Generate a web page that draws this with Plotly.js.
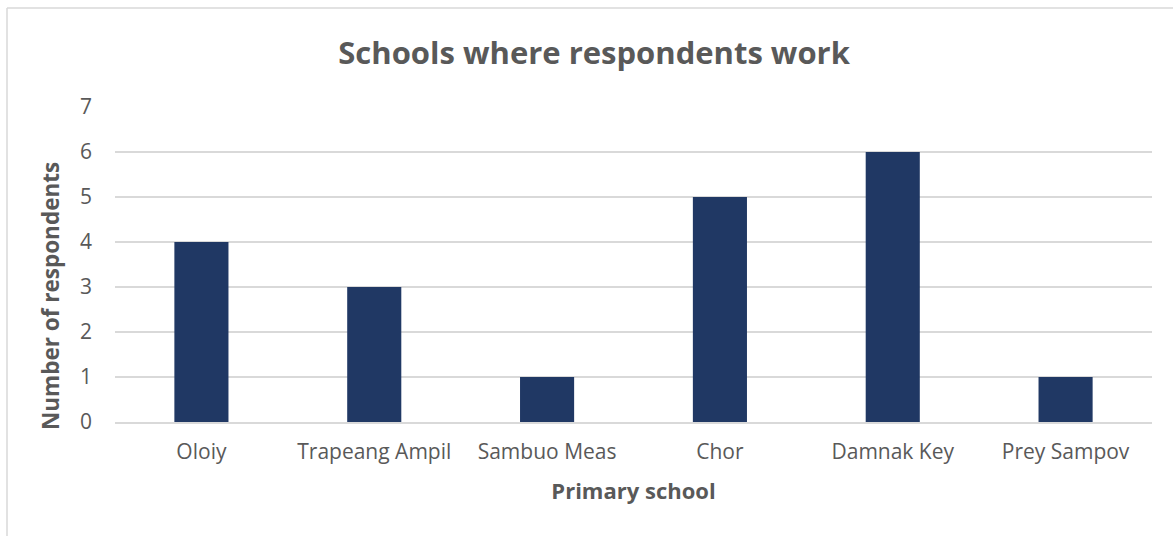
<!DOCTYPE html>
<html>
<head>
<meta charset="utf-8">
<script src="https://cdn.plot.ly/plotly-3.0.1.min.js"></script>
<style>html,body{margin:0;padding:0;background:#fff;}#chart{width:1173px;height:536px;}</style>
</head>
<body>
<div id="chart"></div>
<script>
const schools = ["Oloiy", "Trapeang Ampil", "Sambuo Meas", "Chor", "Damnak Key", "Prey Sampov"];
const respondents = [4, 3, 1, 5, 6, 1];
const yTicks = [0, 1, 2, 3, 4, 5, 6, 7];
const yTitle = "Number of respondents";

const font = "'Open Sans', sans-serif";
const W = 1173, H = 536, L = 115, R = 21, T = 107, B = 114;
const pw = W - L - R, ph = H - T - B;
const bx = (7 - L) / pw, by = (H - B - 8) / ph;

Plotly.newPlot("chart", [{
  type: "bar",
  x: schools,
  y: respondents,
  marker: {color: "#203864"},
  hoverinfo: "x+y"
}], {
  width: W, height: H,
  margin: {l: L, r: R, t: T, b: B, pad: 0},
  paper_bgcolor: "#fff", plot_bgcolor: "#fff",
  bargap: 0.687,
  showlegend: false,
  title: {text: "Schools where respondents work", x: 0.462, xref: "paper", xanchor: "center", y: 0.922, yref: "container",
          font: {family: font, size: 31, color: "#595959", weight: "bold"}},
  xaxis: {
    type: "category",
    showgrid: false, showline: true, linecolor: "#d9d9d9", linewidth: 1.5,
    ticks: "", ticklabelstandoff: 10,
    tickfont: {family: font, size: 21, color: "#595959"},
    title: {text: "Primary school", font: {family: font, size: 22, color: "#595959", weight: "bold"}, standoff: 20},
    fixedrange: true
  },
  yaxis: {
    range: [0, 7], tickvals: yTicks, ticktext: yTicks.map(String),
    showgrid: true, gridcolor: "#d9d9d9", gridwidth: 1.5,
    zeroline: false, showline: false,
    ticks: "", ticklabelstandoff: 22,
    tickfont: {family: font, size: 21, color: "#595959"},
    fixedrange: true
  },
  annotations: [{
    text: yTitle, xref: "paper", yref: "paper", x: (50 - L) / pw, y: (H - B - 296) / ph,
    xanchor: "center", yanchor: "middle", textangle: -90, showarrow: false,
    font: {family: font, size: 22.5, color: "#595959", weight: "bold"}
  }],
  shapes: [
    {type: "line", xref: "paper", yref: "paper", x0: bx, x1: bx, y0: -1, y1: by, line: {color: "#d9d9d9", width: 1.5}},
    {type: "line", xref: "paper", yref: "paper", x0: bx, x1: 1.2, y0: by, y1: by, line: {color: "#d9d9d9", width: 1.5}}
  ]
}, {displayModeBar: false});
</script>
</body>
</html>
